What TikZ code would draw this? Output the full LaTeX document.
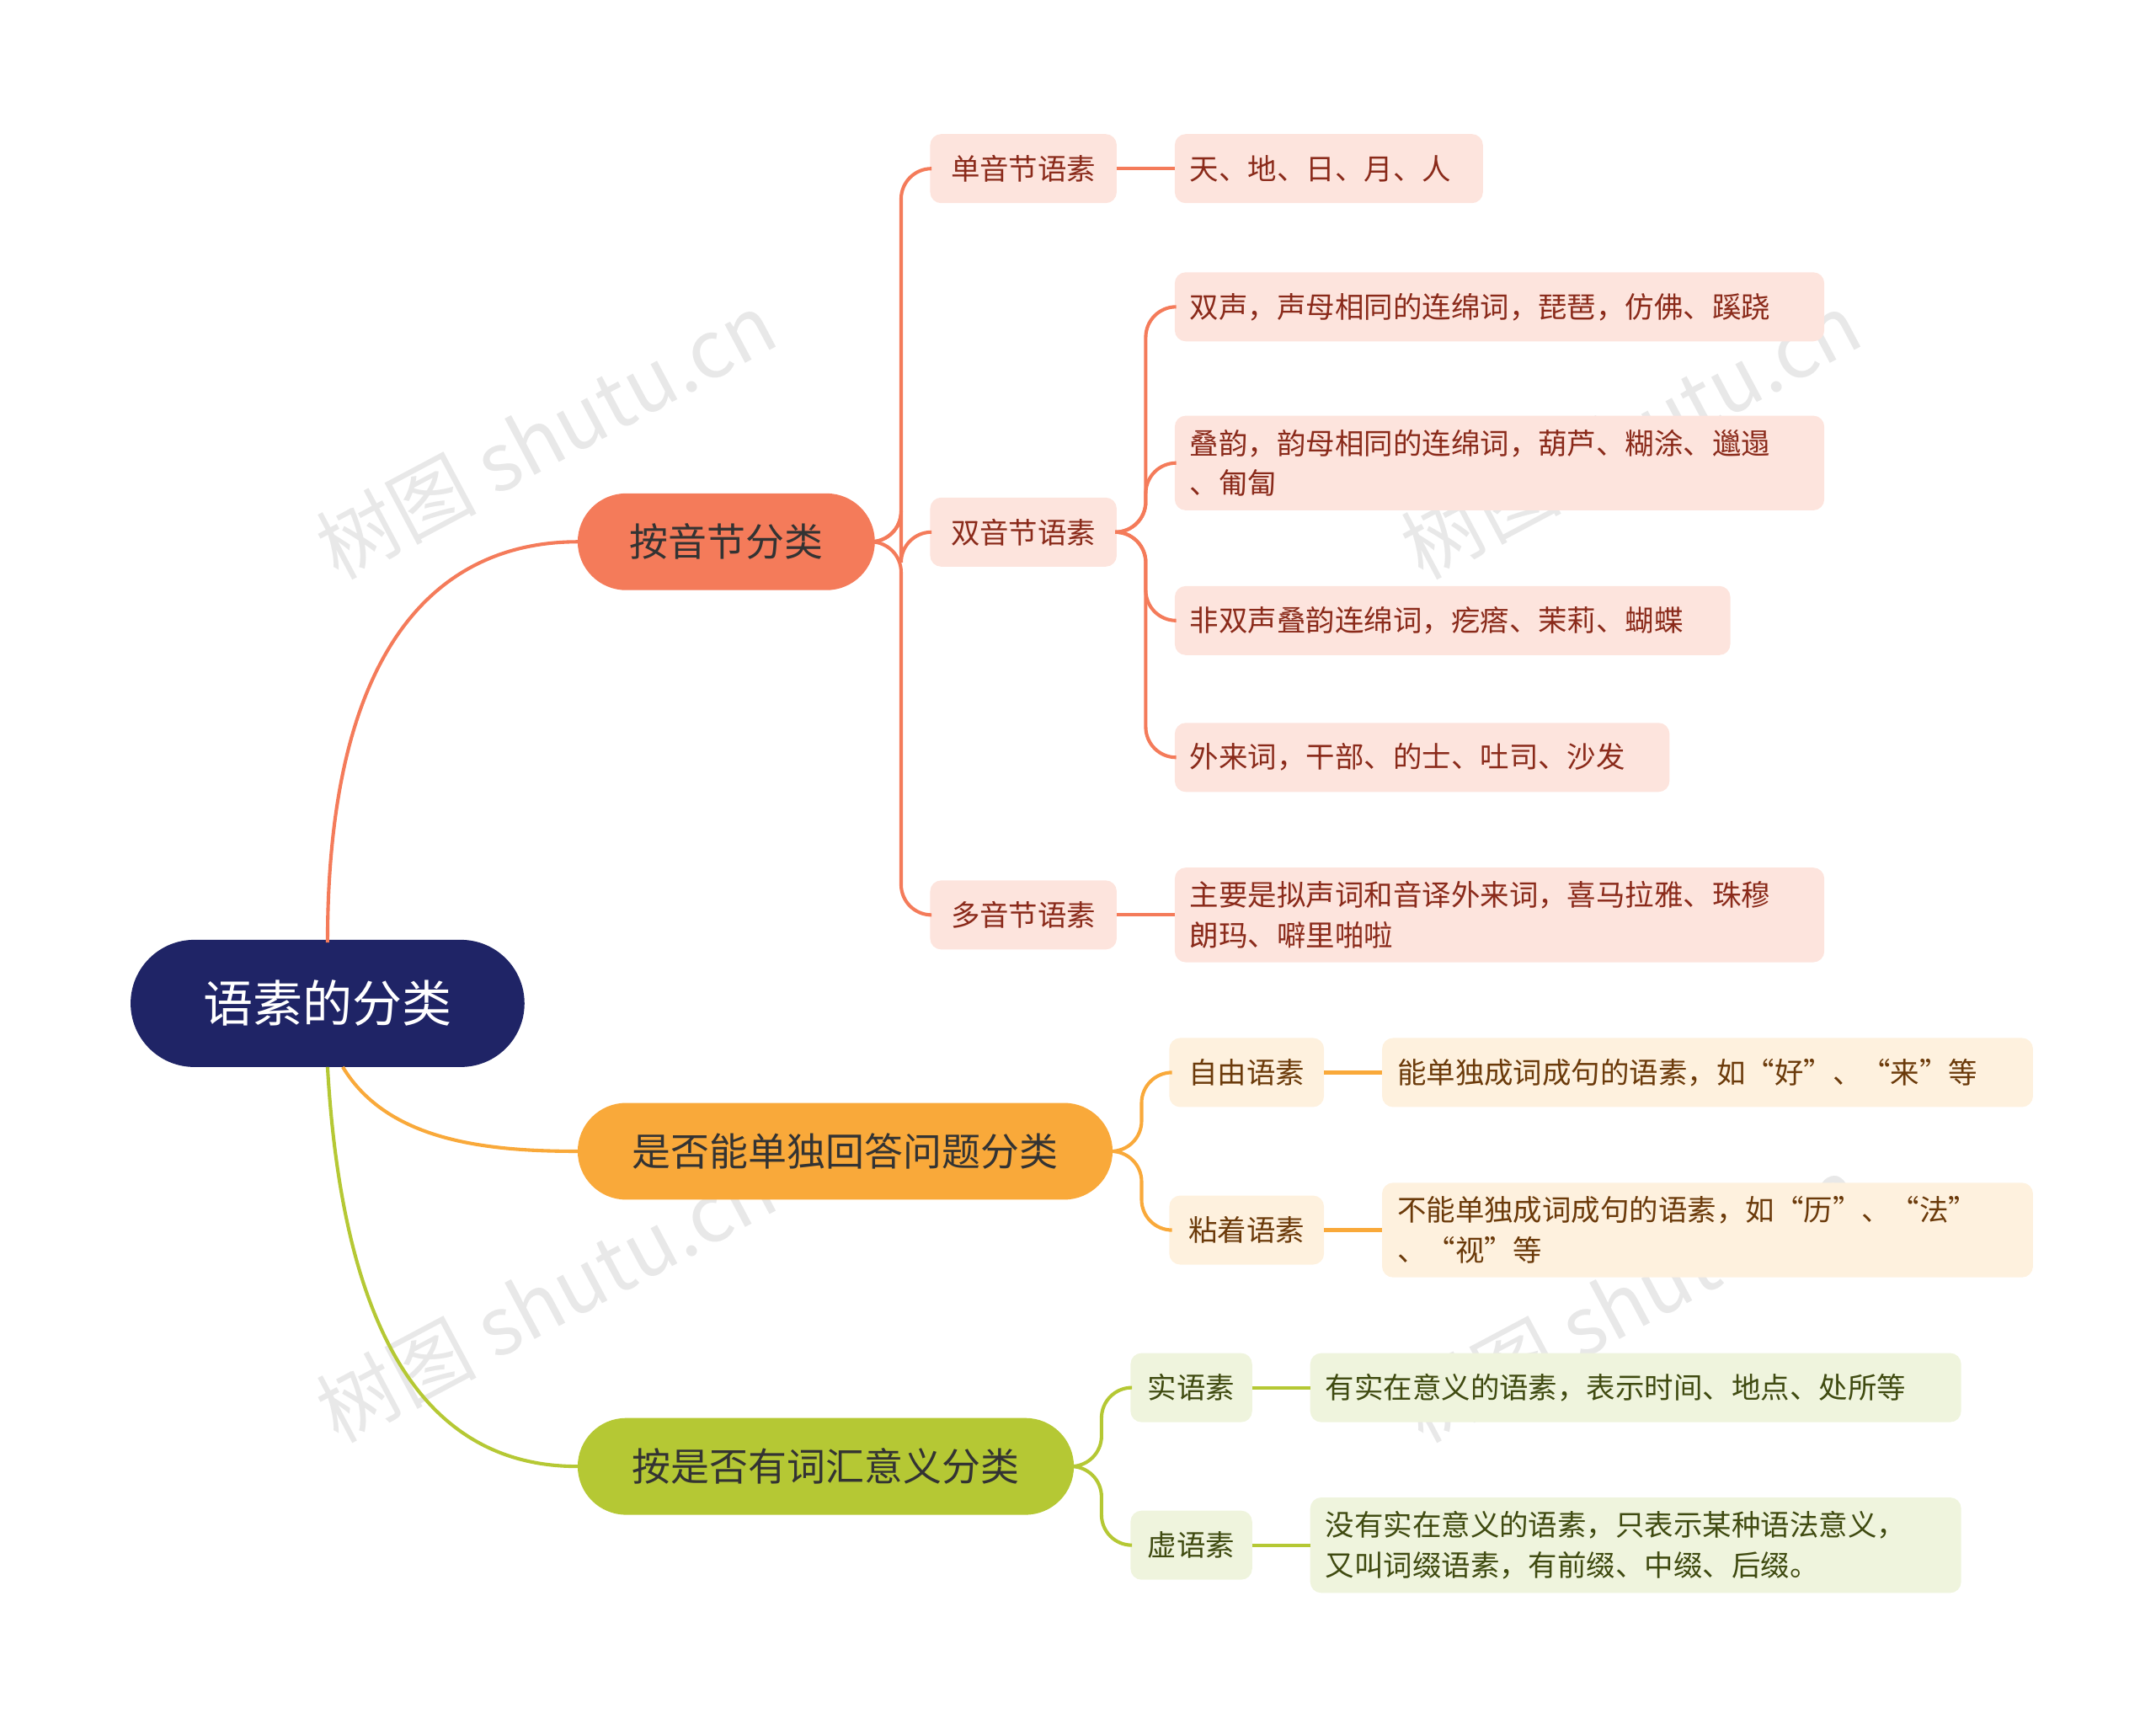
\documentclass[tikz,border=0pt]{standalone}
\usepackage{fontspec}
\setmainfont{Noto Sans CJK SC}
\usetikzlibrary{positioning}
\definecolor{navy}{HTML}{1F2466}
\definecolor{coral}{HTML}{F47B5A}
\definecolor{coralL}{HTML}{FDE4DD}
\definecolor{orng}{HTML}{F9A93A}
\definecolor{orngL}{HTML}{FEF1DE}
\definecolor{grn}{HTML}{B5C834}
\definecolor{grnL}{HTML}{EFF4DD}
\definecolor{redtxt}{HTML}{8A2A1A}
\definecolor{otxt}{HTML}{6B3A0A}
\definecolor{gtxt}{HTML}{3F4A10}
\tikzset{
 l1/.style={rounded corners=35pt,minimum height=70pt,font=\fontsize{28}{32}\selectfont,text=black!80,anchor=west,inner xsep=0pt,outer sep=0pt},
 l2/.style={rounded corners=8pt,minimum height=50pt,font=\fontsize{21}{27}\selectfont,anchor=west,inner xsep=0pt,outer sep=0pt},
 l3/.style={rounded corners=8pt,minimum height=50pt,font=\fontsize{21}{29}\selectfont,anchor=west,align=left,inner xsep=11pt,inner ysep=10pt,outer sep=0pt},
 wm/.style={text=black!9,font=\fontsize{58}{60}\selectfont,rotate=28},
 conn/.style={line width=2.5pt,rounded corners=22pt}
}
\begin{document}
\begin{tikzpicture}[x=1pt,y=-1pt]
\useasboundingbox (0,0) rectangle (1560,1247);
\foreach \p in {(395,315),(1180,315),(395,940),(1180,940)} \node[wm] at \p {树图 shutu.cn};
\node[fill=navy,rounded corners=46pt,minimum width=285pt,minimum height=92pt,text=white,font=\fontsize{36}{40}\selectfont] (root) at (237,726) {语素的分类};
% level 1
\node[l1,fill=coral,minimum width=215pt] (a) at (418,392) {按音节分类};
\node[l1,fill=orng,minimum width=387pt] (b) at (418,833) {是否能单独回答问题分类};
\node[l1,fill=grn,minimum width=359pt] (c) at (418,1061) {按是否有词汇意义分类};
\draw[coral,line width=2.5pt] (237,682) .. controls (237,450) and (330,392) .. (a.west);
\draw[orng,line width=2.5pt] (248,772) .. controls (280,825) and (350,833) .. (b.west);
\draw[grn,line width=2.5pt] (237,772) .. controls (250,1000) and (330,1061) .. (c.west);
% coral level 2
\node[l2,fill=coralL,text=redtxt,minimum width=135pt] (a1) at (673,122) {单音节语素};
\node[l2,fill=coralL,text=redtxt,minimum width=135pt] (a2) at (673,385) {双音节语素};
\node[l2,fill=coralL,text=redtxt,minimum width=135pt] (a3) at (673,662) {多音节语素};
\foreach \t in {a1,a2,a3} \draw[conn,coral] (a.east) -- (652,392) |- (\t.west);
\node[l3,fill=coralL,text=redtxt,minimum width=223pt,text width=201pt] (a11) at (850,122) {天、地、日、月、人};
\draw[coral,line width=2.5pt] (a1.east) -- (a11.west);
\node[l3,fill=coralL,text=redtxt,text width=448pt] (a21) at (850,222) {双声，声母相同的连绵词，琵琶，仿佛、蹊跷};
\node[l3,fill=coralL,text=redtxt,text width=448pt] (a22) at (850,335) {叠韵，韵母相同的连绵词，葫芦、糊涂、邋遢\\、匍匐};
\node[l3,fill=coralL,text=redtxt,text width=380pt] (a23) at (850,449) {非双声叠韵连绵词，疙瘩、茉莉、蝴蝶};
\node[l3,fill=coralL,text=redtxt,text width=336pt] (a24) at (850,548) {外来词，干部、的士、吐司、沙发};
\foreach \t in {a21,a22,a23,a24} \draw[conn,coral] (a2.east) -- (829,385) |- (\t.west);
\node[l3,fill=coralL,text=redtxt,text width=448pt] (a31) at (850,662) {主要是拟声词和音译外来词，喜马拉雅、珠穆\\朗玛、噼里啪啦};
\draw[coral,line width=2.5pt] (a3.east) -- (a31.west);
% orange
\node[l2,fill=orngL,text=otxt,minimum width=112pt] (b1) at (846,776) {自由语素};
\node[l2,fill=orngL,text=otxt,minimum width=112pt] (b2) at (846,890) {粘着语素};
\foreach \t in {b1,b2} \draw[conn,orng] (b.east) -- (826,833) |- (\t.west);
\node[l3,fill=orngL,text=otxt,text width=449pt] (b11) at (1000,776) {能单独成词成句的语素，如“好”、“来”等};
\node[l3,fill=orngL,text=otxt,text width=449pt] (b21) at (1000,890) {不能单独成词成句的语素，如“历”、“法”\\、“视”等};
\draw[orng,line width=2.5pt] (b1.east) -- (b11.west);
\draw[orng,line width=2.5pt] (b2.east) -- (b21.west);
% green
\node[l2,fill=grnL,text=gtxt,minimum width=88pt] (c1) at (818,1004) {实语素};
\node[l2,fill=grnL,text=gtxt,minimum width=88pt] (c2) at (818,1118) {虚语素};
\foreach \t in {c1,c2} \draw[conn,grn] (c.east) -- (797,1061) |- (\t.west);
\node[l3,fill=grnL,text=gtxt,text width=449pt] (c11) at (948,1004) {有实在意义的语素，表示时间、地点、处所等};
\node[l3,fill=grnL,text=gtxt,text width=449pt] (c21) at (948,1118) {没有实在意义的语素，只表示某种语法意义，\\又叫词缀语素，有前缀、中缀、后缀。};
\draw[grn,line width=2.5pt] (c1.east) -- (c11.west);
\draw[grn,line width=2.5pt] (c2.east) -- (c21.west);
\end{tikzpicture}
\end{document}
